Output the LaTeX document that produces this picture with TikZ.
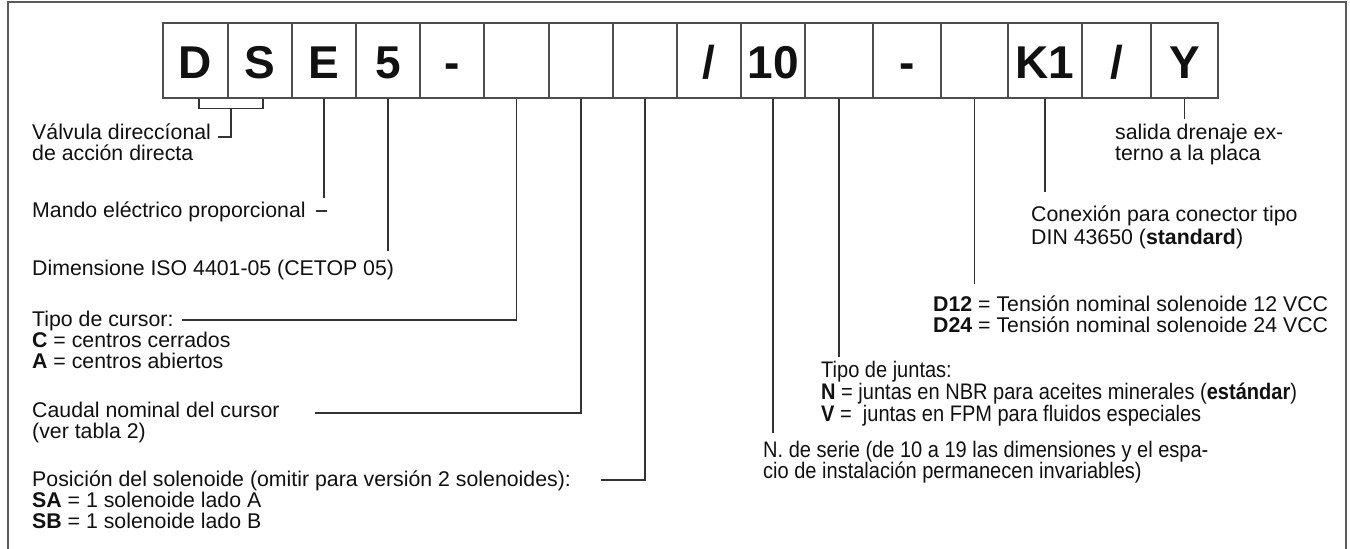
\documentclass[tikz,border=0pt]{standalone}
\usepackage{fontspec}
\setmainfont{Liberation Sans}
\newfontfamily\condfont[FakeStretch=0.89]{Liberation Sans}
\usetikzlibrary{calc}
\definecolor{txt}{HTML}{111111}
\definecolor{linec}{HTML}{333333}
\definecolor{boxc}{HTML}{4D4D4D}
\definecolor{framec}{HTML}{5A5A5A}
\begin{document}
\begin{tikzpicture}[x=1pt,y=-1pt,
  lbl/.style={anchor=base west, inner sep=0pt, font=\fontsize{21.3}{21.3}\selectfont, text=txt},
  cond/.style={lbl, font=\condfont\fontsize{22.5}{22.5}\selectfont},
  codebox/.style={draw=boxc, line width=1.3pt, minimum height=75pt, inner sep=0pt,
    text height=35pt, text depth=0pt, font=\fontsize{46}{46}\selectfont\bfseries, text=txt},
  conn/.style={draw=linec, line width=1.3pt},
  frameline/.style={draw=framec, line width=2pt}
]
\useasboundingbox (0,0) rectangle (1350,549);
\fill[white] (0,0) rectangle (1350,549);
\draw[frameline] (8,560) -- (8,2) -- (1346,2) -- (1346,560);

% code boxes
\node[codebox, minimum width=65pt] (b1)  at (195.5,60.5) {D};
\node[codebox, minimum width=64pt] (b2)  at (260,60.5) {S};
\node[codebox, minimum width=64pt] (b3)  at (324,60.5) {E};
\node[codebox, minimum width=64pt] (b4)  at (388,60.5) {5};
\node[codebox, minimum width=64pt] (b5)  at (452,60.5) {-};
\node[codebox, minimum width=65pt] (b6)  at (516.5,60.5) {};
\node[codebox, minimum width=64pt] (b7)  at (581,60.5) {};
\node[codebox, minimum width=64pt] (b8)  at (645,60.5) {};
\node[codebox, minimum width=64pt] (b9)  at (709,60.5) {/};
\node[codebox, minimum width=64pt] (b10) at (773,60.5) {10};
\node[codebox, minimum width=68pt] (b11) at (839,60.5) {};
\node[codebox, minimum width=68pt] (b12) at (907,60.5) {-};
\node[codebox, minimum width=67pt] (b13) at (974.5,60.5) {};
\node[codebox, minimum width=74pt] (b14) at (1045,60.5) {K1};
\node[codebox, minimum width=69pt] (b15) at (1116.5,60.5) {/};
\node[codebox, minimum width=67pt] (b16) at (1184.5,60.5) {Y};

% left texts
\node[lbl] (vd1) at (32,139) {Válvula direccíonal};
\node[lbl] (vd2) at (32,160.5) {de acción directa};
\node[lbl] (me)  at (32,217) {Mando eléctrico proporcional};
\node[lbl] (dim) at (32,275) {Dimensione ISO 4401-05 (CETOP 05)};
\node[lbl] (tc)  at (32,326) {Tipo de cursor:};
\node[lbl] (tcC) at (32,347) {\textbf{C} = centros cerrados};
\node[lbl] (tcA) at (32,368) {\textbf{A} = centros abiertos};
\node[lbl] (cn1) at (32,417) {Caudal nominal del cursor};
\node[lbl] (cn2) at (32,438) {(ver tabla 2)};
\node[lbl] (ps1) at (32,486) {Posición del solenoide (omitir para versión 2 solenoides):};
\node[lbl] (ps2) at (32,507) {\textbf{SA} = 1 solenoide lado A};
\node[lbl] (ps3) at (32,528) {\textbf{SB} = 1 solenoide lado B};

% right texts
\node[lbl] (sd1) at (1115,139) {salida drenaje ex-};
\node[lbl] (sd2) at (1115,160.5) {terno a la placa};
\node[lbl] (cx1) at (1031,221) {Conexión para conector tipo};
\node[lbl] (cx2) at (1031,244) {DIN 43650 (\textbf{standard})};
\node[lbl] (d12) at (933,311) {\textbf{D12} = Tensión nominal solenoide 12 VCC};
\node[lbl] (d24) at (933,332) {\textbf{D24} = Tensión nominal solenoide 24 VCC};
\node[cond] (tj1) at (821,377) {Tipo de juntas:};
\node[cond] (tj2) at (821,399) {\textbf{N} = juntas en NBR para aceites minerales (\textbf{estándar})};
\node[cond] (tj3) at (821,421) {\textbf{V} = \ juntas en FPM para fluidos especiales};
\node[cond] (ns1) at (763,457) {N. de serie (de 10 a 19 las dimensiones y el espa-};
\node[cond] (ns2) at (763,478) {cio de instalación permanecen invariables)};

% connectors
\coordinate (dsl) at ([xshift=3.5pt]b1.south);
\coordinate (dsr) at ([xshift=3pt]b2.south);
\draw[conn] (dsl) -- ++(0,10) -| (dsr);
\coordinate (dsm) at ($(dsl)!0.5!(dsr)+(0,10)$);
\draw[conn] (dsm) |- ([xshift=7pt,yshift=2pt]vd1.base east);

\draw[conn] (b3.south) -- ++(0,99);
\draw[conn] ([xshift=10pt,yshift=6pt]me.base east) -- ++(11,0);
\draw[conn] (b4.south) -- ++(0,152);
\draw[conn] (b6.south) |- ([xshift=8pt,yshift=6pt]tc.base east);
\draw[conn] (b7.south) |- ([xshift=35pt,yshift=4pt]cn1.base east);
\draw[conn] (b8.south) |- ([xshift=30pt,yshift=6pt]ps1.base east);
\draw[conn] (b10.south) -- ++(0,334);
\draw[conn] (b11.south) -- ++(0,258);
\draw[conn] (b13.south) -- ++(0,185);
\draw[conn] (b14.south) -- ++(0,93);
\draw[conn] (b16.south) -- ++(0,20);
\end{tikzpicture}
\end{document}
